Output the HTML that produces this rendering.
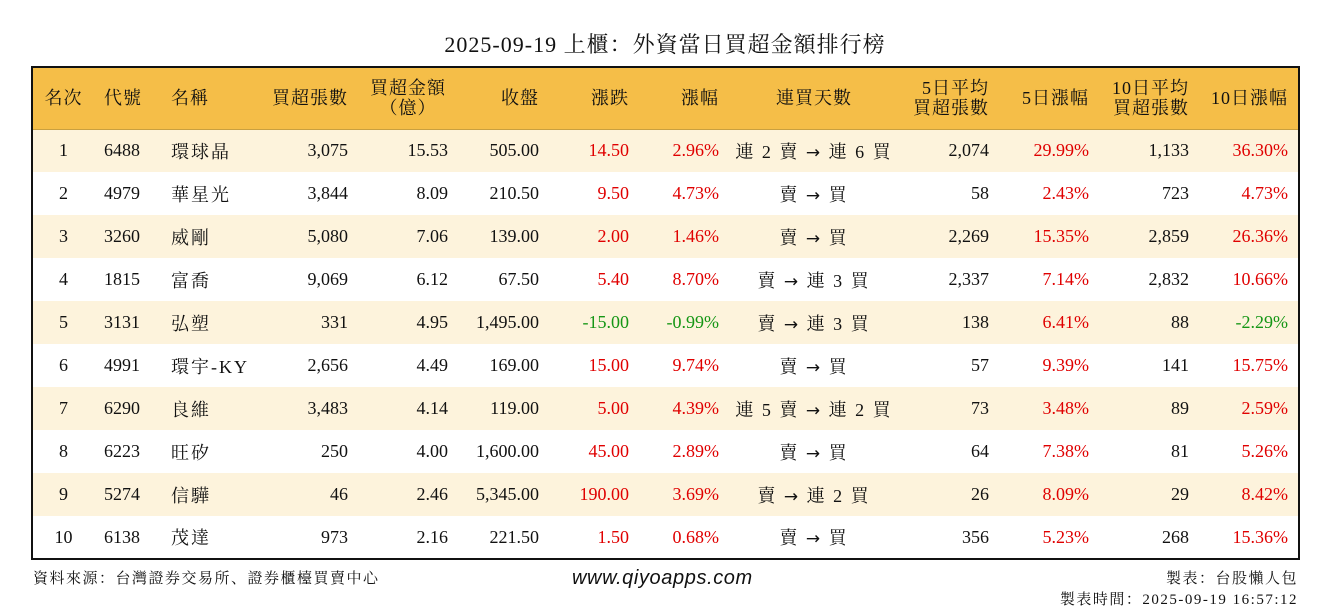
<!DOCTYPE html>
<html><head><meta charset="utf-8"><style>
*{margin:0;padding:0;box-sizing:border-box}
body{width:1330px;height:612px;background:#fff;font-family:"Liberation Serif","Noto Serif CJK SC","Noto Serif CJK TC",serif;color:#111;position:relative;overflow:hidden}
#title{position:absolute;top:28px;left:0;width:1330px;text-align:center;font-size:22px;letter-spacing:1px}
#tbl{position:absolute;left:31px;top:66px;width:1269px;border:2px solid #111;border-collapse:collapse;table-layout:fixed}
#tbl th{background:#F5BE48;height:62px;font-weight:normal;font-size:18px;line-height:20px;letter-spacing:1px;border-bottom:1px solid #c9a040}
#tbl td{height:43px;font-size:18px;white-space:nowrap}
#tbl tr:nth-child(odd) td{background:#FDF3DC}
.r{text-align:right;padding-right:10px}
.c{text-align:center}
.l{text-align:left;padding-left:10px}
.cj{letter-spacing:2px}
.ar{font-family:"DejaVu Sans",sans-serif;font-size:17px}
.red{color:#E00000}.grn{color:#159615}
.foot{position:absolute;font-family:"Liberation Serif","Noto Serif CJK SC",serif;font-size:15px;letter-spacing:1.5px}
</style></head><body>
<div id="title">2025-09-19 上櫃：外資當日買超金額排行榜</div>
<table id="tbl">
<colgroup><col style="width:62px"><col style="width:67px"><col style="width:102px"><col style="width:95px"><col style="width:100px"><col style="width:91px"><col style="width:90px"><col style="width:90px"><col style="width:170px"><col style="width:100px"><col style="width:100px"><col style="width:100px"><col style="width:100px"></colgroup>
<thead><tr>
<th class="c">名次</th><th class="l">代號</th><th class="l">名稱</th><th class="r">買超張數</th><th class="c">買超金額<br>（億）</th><th class="r">收盤</th><th class="r">漲跌</th><th class="r">漲幅</th><th class="c">連買天數</th><th class="r">5日平均<br>買超張數</th><th class="r">5日漲幅</th><th class="r">10日平均<br>買超張數</th><th class="r">10日漲幅</th>
</tr></thead>
<tbody id="body"></tbody>
</table>
<div class="foot" style="left:33px;top:567px">資料來源：台灣證券交易所、證券櫃檯買賣中心</div>
<div class="foot" style="left:572px;top:567px;font-family:'Liberation Sans',sans-serif;font-style:italic;font-size:20px;letter-spacing:0.6px">www.qiyoapps.com</div>
<div class="foot" style="right:32px;top:567px">製表：台股懶人包</div>
<div class="foot" style="right:32px;top:588px">製表時間：2025-09-19 16:57:12</div>
<script>
const codes=["6488","4979","3260","1815","3131","4991","6290","6223","5274","6138"];
const names=["環球晶","華星光","威剛","富喬","弘塑","環宇-KY","良維","旺矽","信驊","茂達"];
const buyLots=["3,075","3,844","5,080","9,069","331","2,656","3,483","250","46","973"];
const buyAmt=["15.53","8.09","7.06","6.12","4.95","4.49","4.14","4.00","2.46","2.16"];
const closes=["505.00","210.50","139.00","67.50","1,495.00","169.00","119.00","1,600.00","5,345.00","221.50"];
const changes=["14.50","9.50","2.00","5.40","-15.00","15.00","5.00","45.00","190.00","1.50"];
const pcts=["2.96%","4.73%","1.46%","8.70%","-0.99%","9.74%","4.39%","2.89%","3.69%","0.68%"];
const streaks=["連 2 賣 → 連 6 買","賣 → 買","賣 → 買","賣 → 連 3 買","賣 → 連 3 買","賣 → 買","連 5 賣 → 連 2 買","賣 → 買","賣 → 連 2 買","賣 → 買"];
const avg5=["2,074","58","2,269","2,337","138","57","73","64","26","356"];
const pct5=["29.99%","2.43%","15.35%","7.14%","6.41%","9.39%","3.48%","7.38%","8.09%","5.23%"];
const avg10=["1,133","723","2,859","2,832","88","141","89","81","29","268"];
const pct10=["36.30%","4.73%","26.36%","10.66%","-2.29%","15.75%","2.59%","5.26%","8.42%","15.36%"];
const tb=document.getElementById('body');
const col=v=>v.startsWith('-')?'grn':'red';
for(let i=0;i<codes.length;i++){
 const tr=document.createElement('tr');
 
 
 const st=streaks[i].replace('→','<span class="ar">→</span>');
 tr.innerHTML=`<td class="c">${i+1}</td><td class="l">${codes[i]}</td><td class="l cj">${names[i]}</td><td class="r">${buyLots[i]}</td><td class="r">${buyAmt[i]}</td><td class="r">${closes[i]}</td><td class="r ${col(changes[i])}">${changes[i]}</td><td class="r ${col(pcts[i])}">${pcts[i]}</td><td class="c cj">${st}</td><td class="r">${avg5[i]}</td><td class="r ${col(pct5[i])}">${pct5[i]}</td><td class="r">${avg10[i]}</td><td class="r ${col(pct10[i])}">${pct10[i]}</td>`;
 tb.appendChild(tr);
}
</script>
</body></html>
